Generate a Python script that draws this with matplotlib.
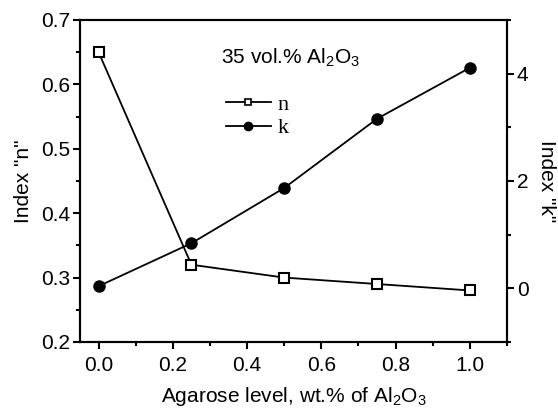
import matplotlib
matplotlib.use('Agg')
import matplotlib.pyplot as plt
from matplotlib.ticker import MultipleLocator
from matplotlib.lines import Line2D

plt.rcParams['font.family'] = ['Liberation Sans', 'DejaVu Sans']
plt.rcParams['mathtext.fontset'] = 'custom'
plt.rcParams['mathtext.rm'] = 'Liberation Sans'
plt.rcParams['mathtext.default'] = 'regular'

agarose = [0.0, 0.25, 0.5, 0.75, 1.0]
index_n = [0.65, 0.32, 0.30, 0.29, 0.28]
index_k = [0.04, 0.84, 1.87, 3.16, 4.11]

fig = plt.figure(figsize=(5.58, 4.08), dpi=100)
ax = fig.add_axes([0.1434, 0.1618, 0.7652, 0.7892])
ax2 = ax.twinx()

ax.plot(agarose, index_n, color='black', lw=1.3, marker='s', markersize=7,
        markerfacecolor='white', markeredgecolor='black', markeredgewidth=1.5)
ax2.plot(agarose, index_k, color='black', lw=1.3, marker='o', markersize=8,
         markerfacecolor='black', markeredgecolor='black')

ax.set_xlim(-0.05, 1.1)
ax.set_ylim(0.2, 0.7)
ax2.set_ylim(-1, 5)

ax.xaxis.set_major_locator(MultipleLocator(0.2))
ax.xaxis.set_minor_locator(MultipleLocator(0.1))
ax.yaxis.set_major_locator(MultipleLocator(0.1))
ax.yaxis.set_minor_locator(MultipleLocator(0.05))
ax2.yaxis.set_major_locator(MultipleLocator(2))
ax2.yaxis.set_minor_locator(MultipleLocator(1))
ax.xaxis.set_major_formatter(plt.FormatStrFormatter('%.1f'))
ax.yaxis.set_major_formatter(plt.FormatStrFormatter('%.1f'))

for a in (ax, ax2):
    for s in a.spines.values():
        s.set_linewidth(1.5)
    a.tick_params(which='major', direction='out', length=5, width=1.5, labelsize=15, pad=2)
    a.tick_params(which='minor', direction='out', length=3, width=1.5)
ax.tick_params(axis='x', which='major', pad=5)

ax.set_xlabel('Agarose level, wt.% of Al$_2$O$_3$', fontsize=15, labelpad=7)
ax.set_ylabel('Index "n"', fontsize=15, labelpad=6)
ax2.set_ylabel('Index "k"', fontsize=15, rotation=270, labelpad=20)

ax.text(0.493, 0.883, '35 vol.% Al$_2$O$_3$', transform=ax.transAxes,
        ha='center', va='center', fontsize=15)

handles = [
    Line2D([], [], color='black', lw=1.3, marker='s', markersize=4.5,
           markerfacecolor='white', markeredgewidth=1.2),
    Line2D([], [], color='black', lw=1.3, marker='o', markersize=6,
           markerfacecolor='black'),
]
leg = ax2.legend(handles, ['n', 'k'], loc='center', bbox_to_anchor=(0.415, 0.70),
                 frameon=False, handlelength=2.0, handletextpad=0.3,
                 labelspacing=0.12, prop={'family': 'Liberation Serif', 'size': 16})

fig.savefig('out.png', dpi=100)
